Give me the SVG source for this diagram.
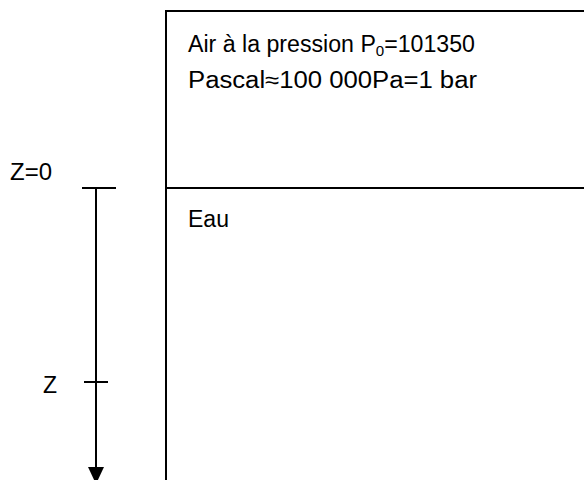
<svg xmlns="http://www.w3.org/2000/svg" width="584" height="480" viewBox="0 0 584 480">
<style>
.ln{stroke:#000;stroke-width:2;fill:none}
.t{font-family:"Liberation Sans",Arial,sans-serif;font-size:23px;fill:#000}
</style>
<rect width="584" height="480" fill="#fff"/>
<g id="container">
<path class="ln" d="M166,480 V11 H584"/>
</g>
<g id="air">
<text class="t" x="188" y="52" textLength="287" lengthAdjust="spacingAndGlyphs">Air à la pression P<tspan font-size="15" dy="4">0</tspan><tspan dy="-4">=101350</tspan></text>
<text class="t" x="188" y="88" textLength="289" lengthAdjust="spacingAndGlyphs">Pascal≈100 000Pa=1 bar</text>
</g>
<g id="eau">
<path class="ln" d="M166,188 H584"/>
<text class="t" x="188" y="227">Eau</text>
</g>
<g id="axis-labels">
<text class="t" x="10" y="180" textLength="42" lengthAdjust="spacingAndGlyphs">Z=0</text>
<text class="t" x="43" y="393">Z</text>
</g>
<g id="connectors">
<path class="ln" d="M82,188 H116"/>
<path class="ln" d="M84,382 H108"/>
<path class="ln" d="M96,188 V468"/>
<path d="M88,467 L104,467 L96,484 Z" fill="#000"/>
</g>
</svg>
